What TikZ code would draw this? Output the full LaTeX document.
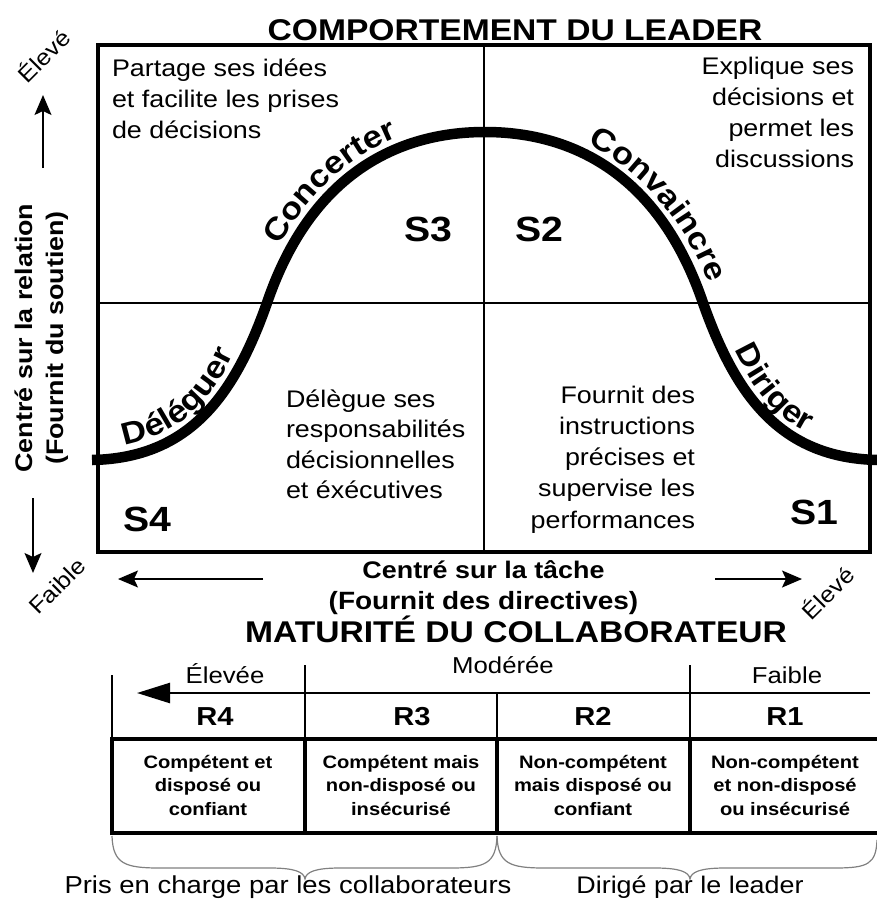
\documentclass[tikz,border=0pt]{standalone}
\usepackage{fontspec}
\setmainfont{Liberation Sans}[FakeStretch=1.12]
\usetikzlibrary{arrows.meta,decorations.text}
\newcommand\fsz[1]{\fontsize{#1}{#1}\selectfont}
\newcommand\curvefont{\bfseries\fsz{31}}
\begin{document}
\begin{tikzpicture}[x=1pt,y=-1pt,
  every node/.style={inner sep=0pt, outer sep=0pt},
  title/.style={font=\bfseries\fsz{30}, anchor=base},
  axislbl/.style={font=\bfseries\fsz{24}, anchor=base},
  qtext/.style={font=\fsz{24}},
  slbl/.style={font=\bfseries\fsz{35}, anchor=base west},
  diag/.style={font=\fsz{22.5}, rotate=45},
  axisarrow/.style={line width=1.6pt, -{Stealth[length=20pt,width=17pt,inset=4pt]}},
  outerbox/.style={line width=3.5pt},
  divider/.style={line width=1.6pt},
  bell/.style={line width=10.5pt},
  thinline/.style={line width=1.5pt},
  thickline/.style={line width=3.5pt},
  hdr/.style={font=\fsz{23}, anchor=base},
  rlbl/.style={font=\bfseries\fsz{26}, anchor=base},
  celltext/.style={font=\bfseries\fsz{18}, anchor=base},
  bracestyle/.style={line width=1.2pt, draw=black!50},
  btext/.style={font=\fsz{24}, anchor=base}
]
\useasboundingbox (0,0) rectangle (877,902);

% titles
\node[title] (t1) at (515,40) {COMPORTEMENT DU LEADER};
\node[title] (t2) at (516,642) {MATURITÉ DU COLLABORATEUR};

% box and quadrants
\draw[outerbox] (98,45) rectangle (870,552);
\draw[divider] (484,45) -- (484,552) (98,303) -- (870,303);

% bell curve
\draw[bell] (92,460) .. controls (190,458) and (235,395) .. (268,300)
  .. controls (311,176.5) and (395,132) .. (485,132)
  .. controls (575,132) and (659,176.5) .. (702,300)
  .. controls (735,395) and (780,458) .. (878,460);

% curve labels
\path[decorate, decoration={text along path, text={|\curvefont|Déléguer}, text align={left indent=33pt}}]
  (92,448) .. controls (188,446) and (224,391) .. (257,296);
\path[decorate, decoration={text along path, text={|\curvefont|Concerter}, text align={left indent=55pt}}]
  (257,296) .. controls (300,172) and (395,120) .. (485,120);
\path[decorate, decoration={text along path, text={|\curvefont|Convaincre}, text align={left indent=106pt}}]
  (485,120) .. controls (575,120) and (670,172) .. (713,296);
\path[decorate, decoration={text along path, text={|\curvefont|Diriger}, text align={left indent=58pt}}]
  (713,296) .. controls (746,391) and (782,446) .. (878,448);

% quadrant texts
\foreach \t [count=\i] in {Partage ses idées,et facilite les prises,de décisions}
  \node[qtext, anchor=base west] (tl\i) at (112,{45.9+30.8*\i}) {\t};
\foreach \t [count=\i] in {Explique ses,décisions et,permet les,discussions}
  \node[qtext, anchor=base east] (tr\i) at (854,{43+31*\i}) {\t};
\foreach \t [count=\i] in {Délègue ses,responsabilités,décisionnelles,et éxécutives}
  \node[qtext, anchor=base west] (bl\i) at (286,{376.5+30.6*\i}) {\t};
\foreach \t [count=\i] in {Fournit des,instructions,précises et,supervise les,performances}
  \node[qtext, anchor=base east] (br\i) at (695,{372.5+31.1*\i}) {\t};

% S labels
\node[slbl] (s3) at (404,241) {S3};
\node[slbl] (s2) at (515,241) {S2};
\node[slbl] (s4) at (123,531) {S4};
\node[slbl] (s1) at (790,524) {S1};

% axis labels
\node[axislbl, rotate=90] (yl1) at (32,338) {Centré sur la relation};
\node[axislbl, rotate=90] (yl2) at (63,338) {(Fournit du soutien)};
\node[axislbl] (xl1) at (483.5,578) {Centré sur la tâche};
\node[axislbl, font=\bfseries\fsz{25}] (xl2) at (483.5,609) {(Fournit des directives)};

% axis arrows
\coordinate (ua1) at (43,168); \coordinate (ua2) at (43,95);
\coordinate (da1) at (33,498); \coordinate (da2) at (33,573);
\coordinate (la1) at (263,579); \coordinate (la2) at (118,579);
\coordinate (ra1) at (715,579); \coordinate (ra2) at (802,579);
\draw[axisarrow] (ua1) -- (ua2);
\draw[axisarrow] (da1) -- (da2);
\draw[axisarrow] (la1) -- (la2);
\draw[axisarrow] (ra1) -- (ra2);

\node[diag] (el1) at (43,55) {Élevé};
\node[diag] (fa1) at (57,586) {Faible};
\node[diag] (el2) at (827,592) {Élevé};

% maturity table
\draw[thinline] (112,675) -- (112,739) (305,665) -- (305,739) (690,665) -- (690,739) (497,693) -- (497,739);
\coordinate (ta1) at (870,693); \coordinate (ta2) at (137,693);
\draw[line width=2.5pt, -{Triangle[length=33pt,width=20pt]}] (ta1) -- (ta2);
\draw[thickline] (112,739) rectangle (885,833);
\draw[thickline] (305,739) -- (305,833) (497,739) -- (497,833) (690,739) -- (690,833);

\node[hdr] (h1) at (225,683) {Élevée};
\node[hdr] (h2) at (503,673) {Modérée};
\node[hdr] (h3) at (787,683) {Faible};

\node[rlbl] (r4) at (215,725) {R4};
\node[rlbl] (r3) at (412,725) {R3};
\node[rlbl] (r2) at (593,725) {R2};
\node[rlbl] (r1) at (785,725) {R1};

\foreach \x/\a/\b/\c [count=\j] in {208/Compétent et/disposé ou/confiant,
    401/Compétent mais/non-disposé ou/insécurisé,
    593/Non-compétent/mais disposé ou/confiant,
    785/Non-compétent/et non-disposé/ou insécurisé} {
  \node[celltext] (cA\j) at (\x,768) {\a};
  \node[celltext] (cB\j) at (\x,791.5) {\b};
  \node[celltext] (cC\j) at (\x,815) {\c};
}

% braces
\draw[bracestyle] (112,836) .. controls (113,864) and (125,868) .. (160,868) -- (270,868)
  .. controls (295,868) and (304,872) .. (305,879) .. controls (306,872) and (315,868) .. (340,868)
  -- (450,868) .. controls (485,868) and (496,864) .. (497,836);
\draw[bracestyle] (497,836) .. controls (498,864) and (510,868) .. (545,868) -- (655,868)
  .. controls (680,868) and (689,872) .. (690,879) .. controls (691,872) and (700,868) .. (725,868)
  -- (835,868) .. controls (868,868) and (876,864) .. (877,840);

\node[btext, font=\fsz{24.5}] (p1) at (288,893) {Pris en charge par les collaborateurs};
\node[btext] (p2) at (690,893) {Dirigé par le leader};
\end{tikzpicture}
\end{document}
